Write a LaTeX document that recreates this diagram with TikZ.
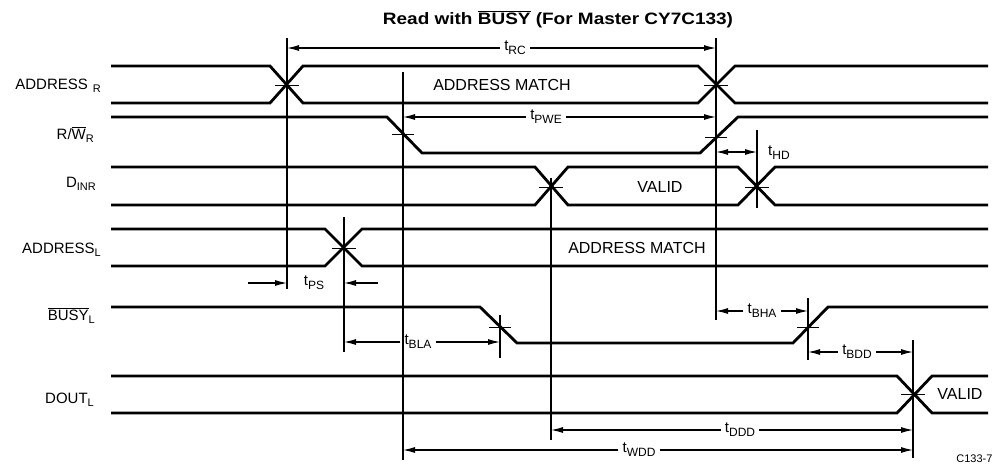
\documentclass[tikz,border=0pt]{standalone}
\usepackage{fontspec}
\setmainfont{Liberation Sans}
\newfontfamily\tdtitlefont[FakeStretch=1.15]{Liberation Sans Bold}
\usepackage{tikz}
\usetikzlibrary{arrows.meta}
\newcommand\tdbar[1]{\ensuremath{\overline{\mbox{#1}}}}
\newcommand\tdsub[1]{\raisebox{-0.45ex}{\fontsize{11}{12}\selectfont #1}}
\newcommand\tdt[1]{t\raisebox{-0.5ex}{\fontsize{12}{13}\selectfont #1}}
\tikzset{
  td diagram/.style={line cap=butt, line join=miter},
  td signal/.style={draw=black, line width=2.8pt},
  td marker/.style={draw=black, line width=1.1pt},
  td tick/.style={draw=black, line width=1pt},
  td dim/.style={-{Latex[length=12pt,width=6pt]}, draw=black, line width=1.1pt},
  td dims/.style={td dim, {Latex[length=12pt,width=6pt]}-{Latex[length=12pt,width=6pt]}},
  td time/.style={font=\fontsize{15}{17}\selectfont, inner xsep=4pt, inner ysep=2pt},
  td name/.style={font=\fontsize{15}{17}\selectfont, anchor=base east, inner sep=0pt},
  td value/.style={font=\fontsize{16}{18}\selectfont, inner sep=0pt}
}

\begin{document}
\begin{tikzpicture}[td diagram,x=1pt,y=-1pt]
\useasboundingbox (0,0) rectangle (997,467);
\node[font=\tdtitlefont\fontsize{16.5}{18}\selectfont, anchor=base] (title) at (558,24)
  {Read with \tdbar{BUSY} (For Master CY7C133)};
\node[td name] (nAR) at (101,89) {ADDRESS\hspace{5pt}\tdsub{R}};
\node[td name] (nRW) at (94,139) {R/\tdbar{W}\tdsub{R}};
\node[td name] (nDI) at (96,187) {D\tdsub{INR}};
\node[td name] (nAL) at (101,253) {ADDRESS\tdsub{L}};
\node[td name] (nBY) at (95,320) {\tdbar{BUSY}\tdsub{L}};
\node[td name] (nDO) at (94,403) {DOUT\tdsub{L}};
\draw[td signal] (111,66) -- (270,66) -- (303,103) -- (698,103) -- (735,66) -- (988,66);
\draw[td signal] (111,103) -- (270,103) -- (303,66) -- (698,66) -- (735,103) -- (988,103);
\draw[td signal] (111,117) -- (387,117) -- (422,153) -- (700,153) -- (738,117) -- (988,117);
\draw[td signal] (111,167) -- (535,167) -- (568,205) -- (738,205) -- (775,167) -- (988,167);
\draw[td signal] (111,205) -- (535,205) -- (568,167) -- (738,167) -- (775,205) -- (988,205);
\draw[td signal] (111,229) -- (325,229) -- (362,266) -- (988,266);
\draw[td signal] (111,266) -- (325,266) -- (362,229) -- (988,229);
\draw[td signal] (111,307) -- (480,307) -- (517,343) -- (793,343) -- (828,307) -- (988,307);
\draw[td signal] (111,376) -- (897,376) -- (932,413) -- (988,413);
\draw[td signal] (111,413) -- (897,413) -- (932,376) -- (988,376);
\node[td value] (vAR) at (502,85) {ADDRESS MATCH};
\node[td value] (vDI) at (660,187) {VALID};
\node[td value] (vAL) at (637,248) {ADDRESS MATCH};
\node[td value] (vDO) at (960,394) {VALID};
\draw[td marker] (287,38) -- (287,289);
\draw[td marker] (403,72) -- (403,460);
\draw[td marker] (716,38) -- (716,320);
\draw[td marker] (757,130) -- (757,208);
\draw[td marker] (551,178) -- (551,440);
\draw[td marker] (344,217) -- (344,352);
\draw[td marker] (500,315) -- (500,358);
\draw[td marker] (808,298) -- (808,360);
\draw[td marker] (913,340) -- (913,458);
\draw[td tick] (275,85) -- (299,85);
\draw[td tick] (704,85) -- (728,85);
\draw[td tick] (392,134) -- (414,134);
\draw[td tick] (705,137) -- (727,137);
\draw[td tick] (539,187) -- (563,187);
\draw[td tick] (745,187) -- (769,187);
\draw[td tick] (332,248) -- (356,248);
\draw[td tick] (489,327) -- (511,327);
\draw[td tick] (797,327) -- (819,327);
\draw[td tick] (901,394) -- (925,394);
\coordinate (rc1) at (287,48);
\coordinate (rc2) at (716,48);
\coordinate (pwe1) at (403,117);
\coordinate (pwe2) at (716,117);
\coordinate (hd1) at (716,152);
\coordinate (hd2) at (757,152);
\coordinate (ps0) at (248,283);
\coordinate (ps1) at (287,283);
\coordinate (ps2) at (344,283);
\coordinate (ps3) at (378,283);
\coordinate (bla1) at (344,342);
\coordinate (bla2) at (500,342);
\coordinate (bha1) at (716,311);
\coordinate (bha2) at (808,311);
\coordinate (bdd1) at (808,352);
\coordinate (bdd2) at (913,352);
\coordinate (ddd1) at (551,430);
\coordinate (ddd2) at (913,430);
\coordinate (wdd1) at (403,450);
\coordinate (wdd2) at (913,450);
\node[td time] (tRC) at (515,48) {\tdt{RC}};
\node[td time] (tPWE) at (546,117) {\tdt{PWE}};
\node[td time, anchor=west] (tHD) at (764,153) {\tdt{HD}};
\node[td time] (tPS) at (314,283) {\tdt{PS}};
\node[td time] (tBLA) at (418,342) {\tdt{BLA}};
\node[td time] (tBHA) at (762,311) {\tdt{BHA}};
\node[td time] (tBDD) at (857,352) {\tdt{BDD}};
\node[td time] (tDDD) at (740,430) {\tdt{DDD}};
\node[td time] (tWDD) at (639,450) {\tdt{WDD}};
\draw[td dim] (tRC) -- (rc1);
\draw[td dim] (tRC) -- (rc2);
\draw[td dim] (tPWE) -- (pwe1);
\draw[td dim] (tPWE) -- (pwe2);
\draw[td dims] (hd1) -- (hd2);
\draw[td dim] (ps0) -- (ps1);
\draw[td dim] (ps3) -- (ps2);
\draw[td dim] (tBLA) -- (bla1);
\draw[td dim] (tBLA) -- (bla2);
\draw[td dim] (tBHA) -- (bha1);
\draw[td dim] (tBHA) -- (bha2);
\draw[td dim] (tBDD) -- (bdd1);
\draw[td dim] (tBDD) -- (bdd2);
\draw[td dim] (tDDD) -- (ddd1);
\draw[td dim] (tDDD) -- (ddd2);
\draw[td dim] (tWDD) -- (wdd1);
\draw[td dim] (tWDD) -- (wdd2);
\node[font=\fontsize{11}{12}\selectfont, anchor=base east] (fig) at (996,462) {C133-7};
\end{tikzpicture}
\end{document}
